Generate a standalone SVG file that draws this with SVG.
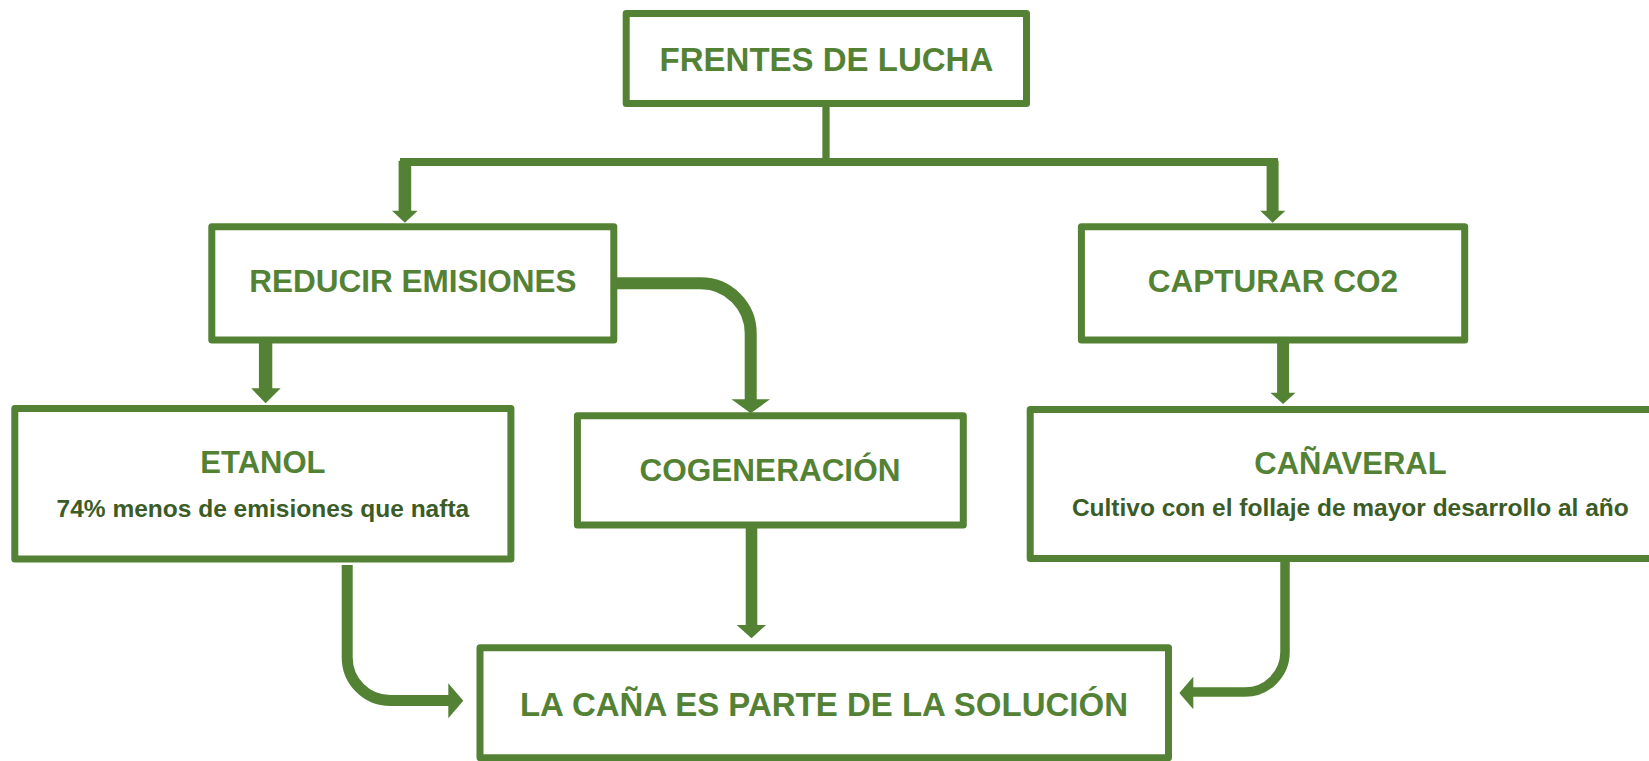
<svg xmlns="http://www.w3.org/2000/svg" width="1649" height="761" viewBox="0 0 1649 761">
<defs>
<style>
.box{fill:#ffffff;stroke:#548235;stroke-width:7;stroke-linejoin:round}
.h{font-family:"Liberation Sans",Arial,sans-serif;font-weight:bold;fill:#548235;text-anchor:middle}
.s{font-family:"Liberation Sans",Arial,sans-serif;font-weight:bold;fill:#3b5c26;text-anchor:middle;font-size:24.5px}
.ln{fill:none;stroke:#548235}
.ah{fill:#548235}
</style>
</defs>
<rect width="1649" height="761" fill="#ffffff"/>
<g id="connectors">
  <line class="ln" x1="826" y1="107" x2="826" y2="162" stroke-width="7.3"/>
  <line class="ln" x1="400" y1="162" x2="1278" y2="162" stroke-width="8"/>
  <polygon class="ah" points="398.6,160.7 411.2,160.7 411.2,210.7 417.7,210.7 404.9,222.7 392,210.7 398.6,210.7"/>
  <polygon class="ah" points="1266.6,160.7 1278.6,160.7 1278.6,210.7 1285.4,210.7 1272.6,222.7 1260.2,210.7 1266.6,210.7"/>
  <polygon class="ah" points="258.9,343 272.3,343 272.3,388.3 280.7,388.3 265.6,403.3 251.2,388.3 258.9,388.3"/>
  <path class="ln" d="M617 283.3 H700.7 A50 50 0 0 1 750.7 333.3 V400" stroke-width="12"/>
  <polygon class="ah" points="731.5,399.3 770,399.3 750.7,413.3"/>
  <polygon class="ah" points="1277.1,343 1289.1,343 1289.1,392.7 1295.5,392.7 1283.1,404 1270.4,392.7 1277.1,392.7"/>
  <path class="ln" d="M347.2 565 V657.5 A43 43 0 0 0 390.2 700.5 H449" stroke-width="11"/>
  <polygon class="ah" points="448.3,683.3 463.3,700.8 448.3,718.3"/>
  <polygon class="ah" points="745.7,528 757.3,528 757.3,625 766,625 751.5,638.3 736.7,625 745.7,625"/>
  <path class="ln" d="M1285 562 V652 A40 40 0 0 1 1245 692 H1192" stroke-width="9.5"/>
  <polygon class="ah" points="1193.3,676.7 1179.3,693 1193.3,709.3"/>
</g>
<g id="frentes">
  <rect class="box" x="626.2" y="13.5" width="400.3" height="90"/>
  <text class="h" x="826.4" y="70.7" font-size="33">FRENTES DE LUCHA</text>
</g>
<g id="reducir">
  <rect class="box" x="211.8" y="226.7" width="402" height="113.3"/>
  <text class="h" x="412.8" y="292.3" font-size="31.5">REDUCIR EMISIONES</text>
</g>
<g id="capturar">
  <rect class="box" x="1081.4" y="226.7" width="383.3" height="113.3"/>
  <text class="h" x="1273" y="292.3" font-size="31.5">CAPTURAR CO2</text>
</g>
<g id="etanol">
  <rect class="box" x="14.8" y="408.4" width="496.1" height="150.5"/>
  <text class="h" x="262.9" y="473.3" font-size="31">ETANOL</text>
  <text class="s" x="262.9" y="516.7">74% menos de emisiones que nafta</text>
</g>
<g id="cogeneracion">
  <rect class="box" x="577.4" y="415.7" width="385.9" height="109.3"/>
  <text class="h" x="770" y="481" font-size="31.5">COGENERACIÓN</text>
</g>
<g id="canaveral">
  <rect class="box" x="1030.2" y="409.4" width="650" height="149"/>
  <text class="h" x="1350.5" y="474" font-size="31">CAÑAVERAL</text>
  <text class="s" x="1350.3" y="516">Cultivo con el follaje de mayor desarrollo al año</text>
</g>
<g id="lacana">
  <rect class="box" x="480" y="647.7" width="688.5" height="110"/>
  <text class="h" x="824" y="716" font-size="33">LA CAÑA ES PARTE DE LA SOLUCIÓN</text>
</g>
</svg>
